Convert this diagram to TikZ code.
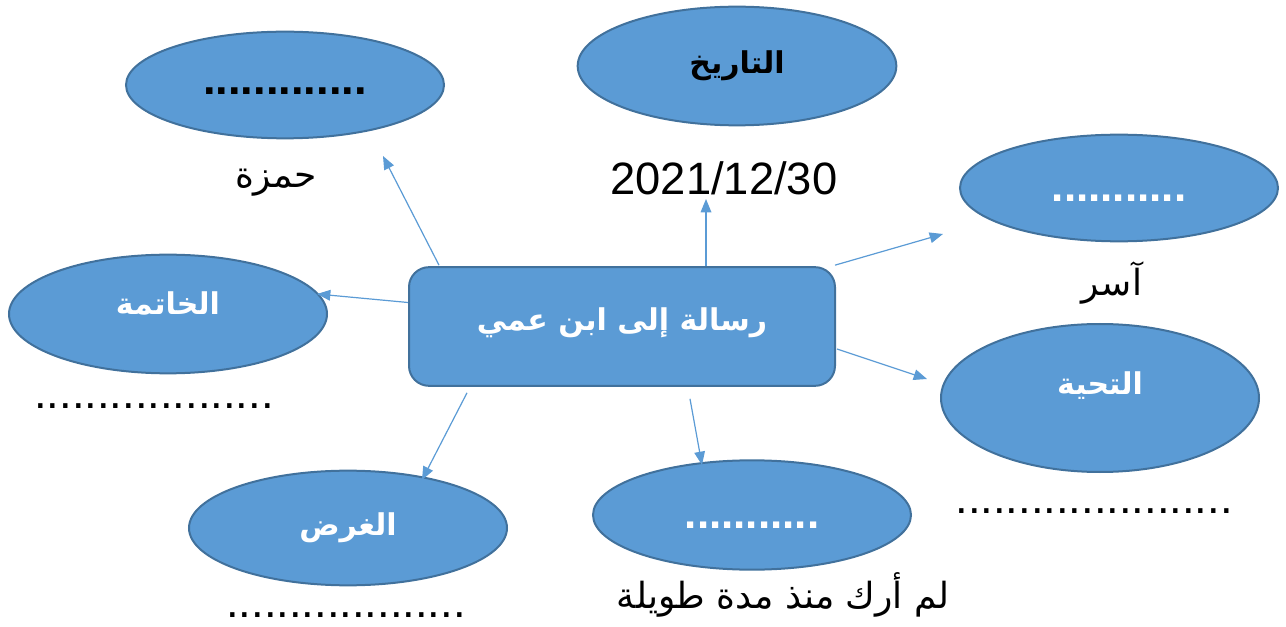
\documentclass[tikz,border=0pt]{standalone}
\usepackage{fontspec}
\setmainfont{Liberation Sans}
\newfontfamily\arabicfont[Script=Arabic]{DejaVu Sans}
\TeXXeTstate=1
\usetikzlibrary{shapes.geometric,arrows.meta}
\definecolor{bfill}{HTML}{5B9BD5}
\definecolor{bline}{HTML}{41719C}
\tikzset{
  bubble/.style={ellipse, draw=bline, fill=bfill, line width=1.5pt, inner sep=0pt},
  lblw/.style={text=white, font=\arabicfont\bfseries\fontsize{22.5}{28}\selectfont},
  lblk/.style={text=black, font=\arabicfont\bfseries\fontsize{22.5}{28}\selectfont},
  dotsw/.style={text=white, font=\bfseries\fontsize{33}{36}\selectfont},
  dotsk/.style={text=black, font=\bfseries\fontsize{34}{36}\selectfont},
  plain/.style={anchor=base, inner sep=0pt, font=\fontsize{34}{40}\selectfont},
  arplain/.style={anchor=base, inner sep=0pt, font=\arabicfont\fontsize{27}{34}\selectfont},
  conn/.style={draw=bfill, line width=0.9pt, -{Triangle[length=10pt,width=8pt]}}
}
\begin{document}
\begin{tikzpicture}[x=0.75pt,y=-0.75pt]
\useasboundingbox (0,0) rectangle (1286,627);
% central box
\node[draw=bline, fill=bfill, line width=1.5pt, rounded corners=15pt,
      minimum width=319.5pt, minimum height=89pt, inner sep=0pt, lblw] (r) at (622,326.5)
      {\raisebox{11.5pt}{\beginR رسالة إلى ابن عمي\endR}};
% ellipses
\node[bubble, minimum width=238.5pt, minimum height=80pt, dotsk] (e1) at (285,85) {\raisebox{-7.5pt}[0pt][0pt]{.............}};
\node[bubble, minimum width=239pt, minimum height=89pt, lblk] (e2) at (737,66) {\raisebox{2pt}{\beginR التاريخ\endR}};
\node[bubble, minimum width=238.5pt, minimum height=80pt, dotsw] (e3) at (1119,188) {\raisebox{-10.5pt}[0pt][0pt]{...........}};
\node[bubble, minimum width=238.5pt, minimum height=111pt, lblw] (e4) at (1100,398) {\raisebox{22.5pt}{\beginR التحية\endR}};
\node[bubble, minimum width=238.5pt, minimum height=89pt, lblw] (e5) at (168,314) {\raisebox{17pt}{\beginR الخاتمة\endR}};
\node[bubble, minimum width=238.5pt, minimum height=86pt, lblw] (e6) at (348,528) {\raisebox{4pt}{\beginR الغرض\endR}};
\node[bubble, minimum width=238.5pt, minimum height=82pt, dotsw] (e7) at (752,515) {\raisebox{-9.75pt}[0pt][0pt]{...........}};
% free texts
\node[arplain] (t_hamza) at (276,188) {\beginR حمزة\endR};
\node[plain] (t_date) at (724,195) {2021/12/30};
\node[arplain] (t_aser) at (1112,296) {\beginR آسر\endR};
\node[plain] (t_d1) at (154,409) {...................};
\node[plain] (t_d2) at (1094,513) {......................};
\node[plain] (t_d3) at (346,617) {...................};
\node[arplain] (t_long) at (783,608) {\beginR لم أرك منذ مدة طويلة\endR};
% arrow tips
\coordinate (p1) at (383,156);
\coordinate (p2) at (706,199);
\coordinate (p3) at (943,234);
\coordinate (p4) at (317,294);
\coordinate (p5) at (927,379);
\coordinate (p6) at (422,480);
\coordinate (p7) at (702,465);
% connectors
\draw[conn] ([xshift=23.25pt,yshift=0.75pt]r.north west) -- (p1);
\draw[conn] ([xshift=63pt]r.north) -- (p2);
\draw[conn] ([xshift=-0.75pt,yshift=0.75pt]r.north east) -- (p3);
\draw[conn] ([yshift=18pt]r.west) -- (p4);
\draw[conn] ([xshift=0.75pt,yshift=-16.9pt]r.east) -- (p5);
\draw[conn] ([xshift=44.25pt,yshift=-4.5pt]r.south west) -- (p6);
\draw[conn] ([xshift=51pt,yshift=-9pt]r.south) -- (p7);
\end{tikzpicture}
\end{document}
